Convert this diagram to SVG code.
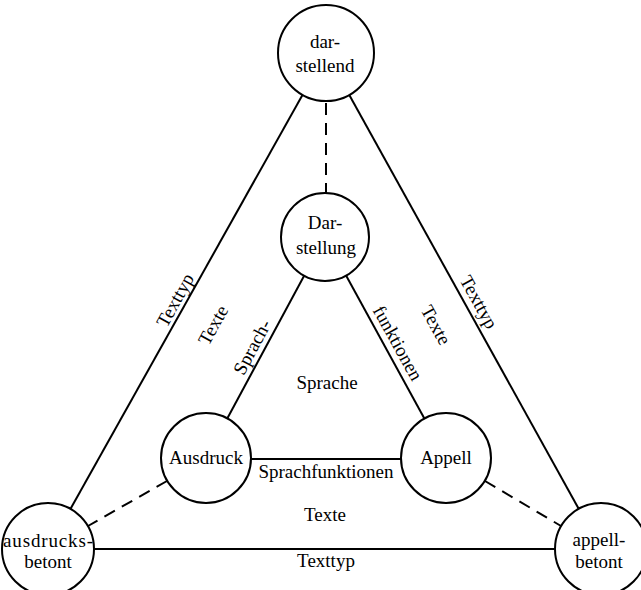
<svg xmlns="http://www.w3.org/2000/svg" width="641" height="590" viewBox="0 0 641 590">
<style>
.node{fill:#fff;stroke:#000;stroke-width:2}
.ln{stroke:#000;stroke-width:2;fill:none}
.dash{stroke:#000;stroke-width:2;fill:none;stroke-dasharray:12 8}
text{font-family:"Liberation Serif","Times New Roman",serif;font-size:19px;fill:#000;text-anchor:middle}
.rot{dominant-baseline:central}
</style>
<rect width="641" height="590" fill="#fff"/>
<g id="connectors">
<line class="ln" x1="326" y1="53" x2="48" y2="549"/>
<line class="ln" x1="326" y1="53" x2="601" y2="549"/>
<line class="ln" x1="48" y1="549" x2="601" y2="549"/>
<line class="ln" x1="325" y1="237" x2="206" y2="458"/>
<line class="ln" x1="325" y1="237" x2="446" y2="458"/>
<line class="ln" x1="206" y1="459" x2="446" y2="459"/>
<line class="dash" x1="326" y1="103" x2="326" y2="193"/>
<line class="dash" x1="167" y1="481" x2="88" y2="526"/>
<line class="dash" x1="485" y1="481" x2="561" y2="526"/>
<text class="rot" transform="translate(175,300) rotate(-61)">Texttyp</text>
<text class="rot" transform="translate(213,325) rotate(-61)">Texte</text>
<text class="rot" transform="translate(252,347) rotate(-62)">Sprach-</text>
<text class="rot" transform="translate(398,343) rotate(61)">funktionen</text>
<text class="rot" transform="translate(436,325) rotate(61)">Texte</text>
<text class="rot" transform="translate(479,302) rotate(61)">Texttyp</text>
<text x="327" y="389">Sprache</text>
<text x="326" y="478">Sprachfunktionen</text>
<text x="325" y="521">Texte</text>
<text x="326" y="567">Texttyp</text>
</g>
<g id="darstellend"><circle class="node" cx="326" cy="53" r="48"/><text x="325" y="48">dar-</text><text x="325" y="72">stellend</text></g>
<g id="Darstellung"><circle class="node" cx="325" cy="237" r="44"/><text x="325" y="229">Dar-</text><text x="326" y="254">stellung</text></g>
<g id="Ausdruck"><circle class="node" cx="206" cy="458" r="45"/><text x="206" y="464">Ausdruck</text></g>
<g id="Appell"><circle class="node" cx="446" cy="458" r="45"/><text x="446" y="464">Appell</text></g>
<g id="ausdrucksbetont"><circle class="node" cx="48" cy="549" r="46"/><text x="48" y="547" textLength="90">ausdrucks-</text><text x="48" y="568">betont</text></g>
<g id="appellbetont"><circle class="node" cx="601" cy="549" r="46"/><text x="599" y="546">appell-</text><text x="599" y="568">betont</text></g>
</svg>
